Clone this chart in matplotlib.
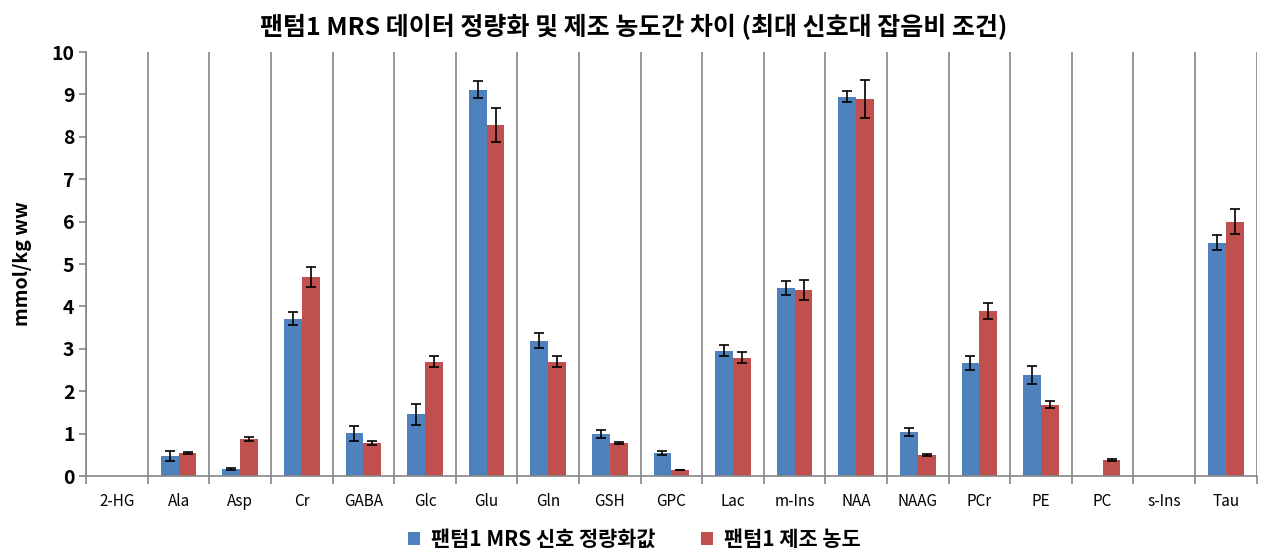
import matplotlib
matplotlib.use("Agg")
import matplotlib.pyplot as plt
import numpy as np

plt.rcParams['font.family'] = ['Noto Sans CJK KR', 'DejaVu Sans']

# Data
categories = ["2-HG", "Ala", "Asp", "Cr", "GABA", "Glc", "Glu", "Gln", "GSH", "GPC",
              "Lac", "m-Ins", "NAA", "NAAG", "PCr", "PE", "PC", "s-Ins", "Tau"]
mrs_values = [np.nan, 0.47, 0.17, 3.71, 1.01, 1.46, 9.11, 3.19, 0.99, 0.54,
              2.95, 4.44, 8.95, 1.04, 2.67, 2.38, np.nan, np.nan, 5.50]
mrs_err = [0, 0.12, 0.03, 0.15, 0.18, 0.25, 0.20, 0.18, 0.09, 0.05,
           0.13, 0.17, 0.14, 0.09, 0.17, 0.22, 0, 0, 0.18]
made_values = [np.nan, 0.54, 0.87, 4.70, 0.78, 2.69, 8.28, 2.69, 0.78, 0.14,
               2.79, 4.39, 8.90, 0.50, 3.89, 1.68, 0.38, np.nan, 6.00]
made_err = [0, 0.02, 0.05, 0.24, 0.04, 0.13, 0.41, 0.13, 0.03, 0.0,
            0.13, 0.23, 0.45, 0.02, 0.19, 0.08, 0.02, 0, 0.29]

title = "팬텀1 MRS 데이터 정량화 및 제조 농도간 차이 (최대 신호대 잡음비 조건)"
series_names = ["팬텀1 MRS 신호 정량화값", "팬텀1 제조 농도"]

fig = plt.figure(figsize=(12.68, 5.57), dpi=100)
ax = fig.add_axes([0.068, 0.1454, 0.923, 0.7612])

x = np.arange(len(categories))
w = 0.29
err_kw = dict(ecolor="black", elinewidth=1.2, capsize=3.5, capthick=1.2)
ax.bar(x - w / 2, mrs_values, w, yerr=mrs_err, color="#4F81BD",
       label=series_names[0], error_kw=err_kw)
ax.bar(x + w / 2, made_values, w, yerr=made_err, color="#C0504D",
       label=series_names[1], error_kw=err_kw)

ax.set_xlim(-0.5, len(categories) - 0.5)
ax.set_ylim(0, 10)
ax.set_yticks(range(0, 11))
ax.tick_params(axis="y", labelsize=14, length=5, color="#868686", width=1.2)
for lbl in ax.get_yticklabels():
    lbl.set_fontweight("bold")

# category boundaries as ticks + vertical grid, labels at centers
ax.set_xticks(np.arange(-0.5, len(categories)), minor=False)
ax.set_xticklabels([])
ax.set_xticks(x, minor=True)
ax.set_xticklabels(categories, minor=True, fontsize=11)
ax.tick_params(axis="x", which="major", length=6, color="#868686", width=1.2)
ax.tick_params(axis="x", which="minor", length=0, pad=12)
ax.grid(axis="x", which="major", color="#868686", linewidth=1.2)
ax.set_axisbelow(True)

for side in ["top", "right"]:
    ax.spines[side].set_visible(False)
for side in ["left", "bottom"]:
    ax.spines[side].set_color("#868686")
    ax.spines[side].set_linewidth(1.2)

ax.set_ylabel("mmol/kg ww", fontsize=14, fontweight="bold", labelpad=14)
fig.suptitle(title, x=0.5, y=0.975, fontsize=18, fontweight="bold")

leg = fig.legend(loc="center", bbox_to_anchor=(0.5, 0.032), ncol=2,
                 frameon=False, prop={"size": 15, "weight": "bold"},
                 handlelength=0.6, handleheight=0.6, columnspacing=2.2, handletextpad=0.5)

fig.savefig("out.png", dpi=100)
